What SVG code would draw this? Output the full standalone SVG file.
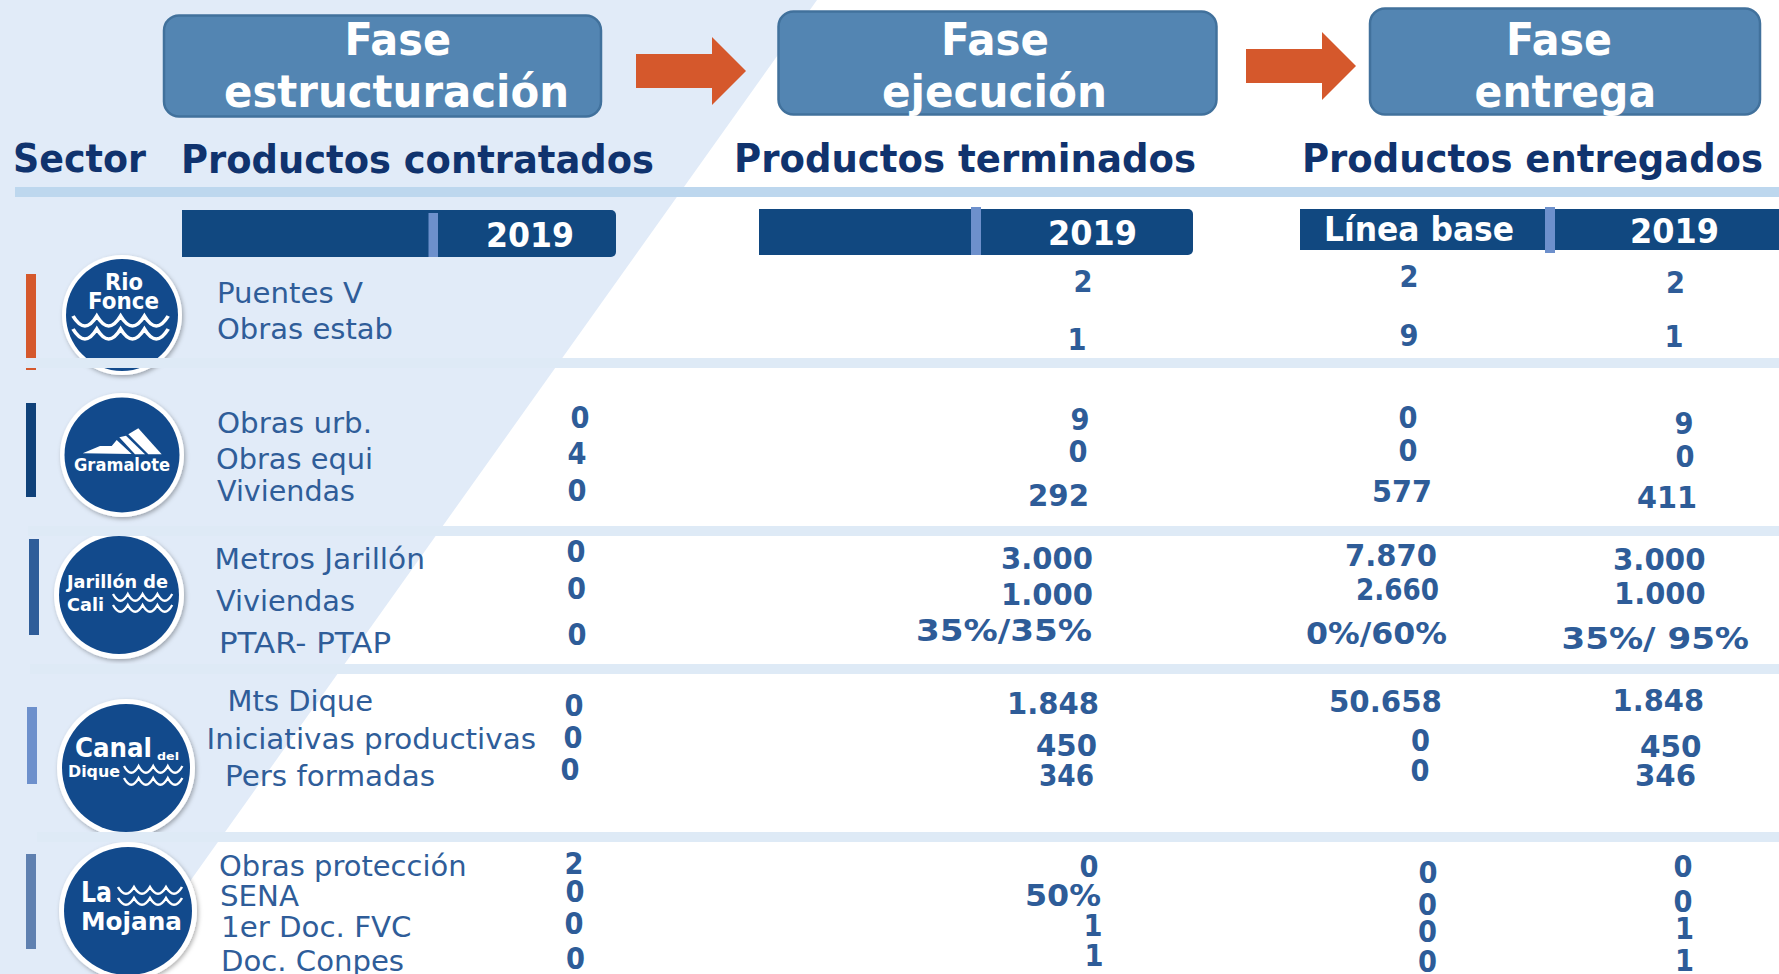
<svg xmlns="http://www.w3.org/2000/svg" xmlns:xlink="http://www.w3.org/1999/xlink" width="1779" height="974" viewBox="0 0 1779 974">
<style>
text{font-family:"DejaVu Sans","Liberation Sans",sans-serif}
.phase{font-size:44px;font-weight:700;fill:#fff}
.box{fill:#5385B2;stroke:#41719C;stroke-width:2.5}
.hdr{font-size:39px;font-weight:700;fill:#10336E}
.yr{font-size:34px;font-weight:700;fill:#fff}
.bar{fill:#114880}
.div{fill:#6D90CC}
.lab{font-size:29px;fill:#2F5D99}
.num{font-size:30px;font-weight:700;fill:#2E5C98}
.c{text-anchor:middle}
.ring{fill:#fff;filter:url(#sh)}
.disc{fill:#124A8C}
.lg{font-weight:700;fill:#fff}
.wv{fill:none;stroke:#fff;stroke-width:3.2}
.band{fill:#DEEAF6}
.arr{fill:#D5582C}
</style>
<defs>
<filter id="sh" x="-15%" y="-15%" width="130%" height="130%"><feDropShadow dx="1.5" dy="2" stdDeviation="2" flood-color="#000" flood-opacity=".3"/></filter>
<path id="w" d="M0 0Q5 9 10 9Q15 9 20 0Q25 9 30 9Q35 9 40 0Q45 9 50 9Q55 9 60 0Q65 9 70 9Q75 9 80 0"/>
</defs>
<rect width="1779" height="974" fill="#fff"/>
<polygon points="0,0 817,0 124,974 0,974" fill="#E1EBF8"/>
<rect x="15" y="187" width="1764" height="10" fill="#BDD7EE"/>

<g id="fase-estructuracion"><rect class="box" x="164" y="15.5" width="437" height="101" rx="15"/>
<text class="phase" x="344.5" y="55" textLength="106.5" lengthAdjust="spacingAndGlyphs">Fase</text>
<text class="phase" x="224" y="107" textLength="345" lengthAdjust="spacingAndGlyphs">estructuración</text></g>
<g id="fase-ejecucion"><rect class="box" x="778.5" y="11.5" width="438" height="103" rx="15"/>
<text class="phase" x="941" y="55" textLength="108" lengthAdjust="spacingAndGlyphs">Fase</text>
<text class="phase" x="882" y="107" textLength="225" lengthAdjust="spacingAndGlyphs">ejecución</text></g>
<g id="fase-entrega"><rect class="box" x="1370" y="8.5" width="390" height="106" rx="15"/>
<text class="phase" x="1506" y="55" textLength="106" lengthAdjust="spacingAndGlyphs">Fase</text>
<text class="phase" x="1474.6" y="107" textLength="181.5" lengthAdjust="spacingAndGlyphs">entrega</text></g>

<g id="connectors">
<polygon class="arr" points="636,54 712,54 712,37 746,71 712,105 712,88 636,88"/>
<polygon class="arr" points="1246,49 1322,49 1322,32 1356,66 1322,100 1322,83 1246,83"/>
</g>

<g id="encabezados">
<text class="hdr" x="13" y="172" textLength="133" lengthAdjust="spacingAndGlyphs">Sector</text>
<text class="hdr" x="181" y="173" textLength="473" lengthAdjust="spacingAndGlyphs">Productos contratados</text>
<text class="hdr" x="734" y="172" textLength="462" lengthAdjust="spacingAndGlyphs">Productos terminados</text>
<text class="hdr" x="1302" y="172" textLength="461" lengthAdjust="spacingAndGlyphs">Productos entregados</text>
</g>

<g id="columna-contratados"><path class="bar" d="M182 210H611a5 5 0 0 1 5 5V252a5 5 0 0 1-5 5H182Z"/><rect class="div" x="428.5" y="213" width="9.5" height="44"/>
<text class="yr" x="486" y="247" textLength="88" lengthAdjust="spacingAndGlyphs">2019</text></g>
<g id="columna-terminados"><path class="bar" d="M759 209H1188a5 5 0 0 1 5 5V250a5 5 0 0 1-5 5H759Z"/><rect class="div" x="971" y="207" width="10" height="48"/>
<text class="yr" x="1048" y="245" textLength="89" lengthAdjust="spacingAndGlyphs">2019</text></g>
<g id="columna-entregados"><rect class="bar" x="1300" y="209" width="479" height="41"/><rect class="div" x="1545" y="207" width="10" height="46"/>
<text class="yr" x="1324" y="241" textLength="190" lengthAdjust="spacingAndGlyphs">Línea base</text>
<text class="yr" x="1630" y="243" textLength="89" lengthAdjust="spacingAndGlyphs">2019</text></g>

<g id="rio-fonce">
<rect x="26" y="274" width="10" height="96" fill="#D5582C"/>
<circle class="ring" cx="122" cy="315" r="60"/><circle class="disc" cx="122" cy="315" r="56"/>
<text class="lg" x="105" y="290" font-size="23" textLength="38" lengthAdjust="spacingAndGlyphs">Rio</text>
<text class="lg" x="88" y="309" font-size="23" textLength="71" lengthAdjust="spacingAndGlyphs">Fonce</text>
<use xlink:href="#w" href="#w" class="wv" transform="translate(73 316) scale(1.19 1.1)"/>
<use xlink:href="#w" href="#w" class="wv" transform="translate(73 329) scale(1.19 1.1)"/>
<text class="lab" x="217" y="303" textLength="146" lengthAdjust="spacingAndGlyphs">Puentes V</text>
<text class="lab" x="217" y="339" textLength="176" lengthAdjust="spacingAndGlyphs">Obras estab</text>
<text class="num c" textLength="19" lengthAdjust="spacingAndGlyphs" x="1083" y="292">2</text><text class="num c" textLength="19" lengthAdjust="spacingAndGlyphs" x="1077" y="350">1</text>
<text class="num c" textLength="19" lengthAdjust="spacingAndGlyphs" x="1409" y="287">2</text><text class="num c" textLength="19" lengthAdjust="spacingAndGlyphs" x="1409" y="346">9</text>
<text class="num c" textLength="19" lengthAdjust="spacingAndGlyphs" x="1675.5" y="293">2</text><text class="num c" textLength="19" lengthAdjust="spacingAndGlyphs" x="1674" y="347">1</text>
</g>

<g id="gramalote">
<rect x="26" y="403" width="10" height="94" fill="#0F4179"/>
<circle class="ring" cx="122" cy="455" r="62"/><circle class="disc" cx="122" cy="455" r="57.5"/>
<polygon fill="#fff" points="82.7,453.3 100,446 111.7,446 116.7,440 131.7,454"/>
<polygon fill="#fff" points="119.3,437.3 126,435.7 145,454.3 135,454.3"/>
<polygon fill="#fff" points="128.3,434.3 138.3,428.3 161.7,454.3 148.3,454.3"/>
<text class="lg" x="74" y="471" font-size="18" textLength="96" lengthAdjust="spacingAndGlyphs">Gramalote</text>
<text class="lab" x="217" y="433" textLength="155" lengthAdjust="spacingAndGlyphs">Obras urb.</text>
<text class="lab" x="216" y="469" textLength="157" lengthAdjust="spacingAndGlyphs">Obras equi</text>
<text class="lab" x="217" y="501" textLength="138" lengthAdjust="spacingAndGlyphs">Viviendas</text>
<text class="num c" textLength="19" lengthAdjust="spacingAndGlyphs" x="580" y="428">0</text><text class="num c" textLength="19" lengthAdjust="spacingAndGlyphs" x="577" y="464">4</text><text class="num c" textLength="19" lengthAdjust="spacingAndGlyphs" x="577" y="501">0</text>
<text class="num c" textLength="19" lengthAdjust="spacingAndGlyphs" x="1080" y="430">9</text><text class="num c" textLength="19" lengthAdjust="spacingAndGlyphs" x="1078" y="462">0</text>
<text class="num" x="1028" y="506" textLength="61" lengthAdjust="spacingAndGlyphs">292</text>
<text class="num c" textLength="19" lengthAdjust="spacingAndGlyphs" x="1408" y="428">0</text><text class="num c" textLength="19" lengthAdjust="spacingAndGlyphs" x="1408" y="461">0</text>
<text class="num" x="1372" y="502" textLength="60" lengthAdjust="spacingAndGlyphs">577</text>
<text class="num c" textLength="19" lengthAdjust="spacingAndGlyphs" x="1684" y="434">9</text><text class="num c" textLength="19" lengthAdjust="spacingAndGlyphs" x="1685" y="467">0</text>
<text class="num" x="1637" y="508" textLength="60" lengthAdjust="spacingAndGlyphs">411</text>
</g>

<g id="jarillon-de-cali">
<rect x="29" y="539" width="10" height="96" fill="#2F5D99"/>
<ellipse class="ring" cx="119" cy="595" rx="65" ry="64"/><ellipse class="disc" cx="119" cy="595" rx="60" ry="59"/>
<text class="lg" x="67" y="588" font-size="18" textLength="101" lengthAdjust="spacingAndGlyphs">Jarillón de</text>
<text class="lg" x="67" y="611" font-size="18" textLength="37" lengthAdjust="spacingAndGlyphs">Cali</text>
<use xlink:href="#w" href="#w" class="wv" transform="translate(113 594) scale(.74 .75)"/>
<use xlink:href="#w" href="#w" class="wv" transform="translate(113 605) scale(.74 .75)"/>
<text class="lab" x="214.5" y="569" textLength="210.5" lengthAdjust="spacingAndGlyphs">Metros Jarillón</text>
<text class="lab" x="216" y="611" textLength="139" lengthAdjust="spacingAndGlyphs">Viviendas</text>
<text class="lab" x="219" y="653" textLength="172" lengthAdjust="spacingAndGlyphs">PTAR- PTAP</text>
<text class="num c" textLength="19" lengthAdjust="spacingAndGlyphs" x="576" y="562">0</text><text class="num c" textLength="19" lengthAdjust="spacingAndGlyphs" x="576.6" y="599">0</text><text class="num c" textLength="19" lengthAdjust="spacingAndGlyphs" x="577" y="645">0</text>
<text class="num" x="1001" y="569" textLength="92" lengthAdjust="spacingAndGlyphs">3.000</text>
<text class="num" x="1001" y="605" textLength="92" lengthAdjust="spacingAndGlyphs">1.000</text>
<text class="num" x="916" y="641" textLength="176" lengthAdjust="spacingAndGlyphs">35%/35%</text>
<text class="num" x="1345" y="566" textLength="92" lengthAdjust="spacingAndGlyphs">7.870</text>
<text class="num" x="1356" y="600" textLength="83" lengthAdjust="spacingAndGlyphs">2.660</text>
<text class="num" x="1306" y="644" textLength="141" lengthAdjust="spacingAndGlyphs">0%/60%</text>
<text class="num" x="1613" y="570" textLength="92.6" lengthAdjust="spacingAndGlyphs">3.000</text>
<text class="num" x="1614" y="604" textLength="91.6" lengthAdjust="spacingAndGlyphs">1.000</text>
<text class="num" x="1561.5" y="649" textLength="187.5" lengthAdjust="spacingAndGlyphs">35%/ 95%</text>
</g>

<g id="canal-del-dique">
<rect x="27" y="707" width="10" height="77" fill="#6D90CC"/>
<circle class="ring" cx="126" cy="768" r="69"/><circle class="disc" cx="126" cy="768" r="64"/>
<text class="lg" x="75" y="757" font-size="26" textLength="77" lengthAdjust="spacingAndGlyphs">Canal</text>
<text class="lg" x="157" y="760" font-size="11" textLength="22" lengthAdjust="spacingAndGlyphs">del</text>
<text class="lg" x="68" y="777" font-size="15" textLength="52" lengthAdjust="spacingAndGlyphs">Dique</text>
<use xlink:href="#w" href="#w" class="wv" transform="translate(124 766) scale(.73 .75)"/>
<use xlink:href="#w" href="#w" class="wv" transform="translate(124 778) scale(.73 .75)"/>
<text class="lab" x="227.6" y="711" textLength="145.4" lengthAdjust="spacingAndGlyphs">Mts Dique</text>
<text class="lab" x="206.6" y="749" textLength="329.4" lengthAdjust="spacingAndGlyphs">Iniciativas productivas</text>
<text class="lab" x="225" y="786" textLength="210" lengthAdjust="spacingAndGlyphs">Pers formadas</text>
<text class="num c" textLength="19" lengthAdjust="spacingAndGlyphs" x="574" y="716">0</text><text class="num c" textLength="19" lengthAdjust="spacingAndGlyphs" x="573" y="748">0</text><text class="num c" textLength="19" lengthAdjust="spacingAndGlyphs" x="570" y="780">0</text>
<text class="num" x="1007" y="714" textLength="92" lengthAdjust="spacingAndGlyphs">1.848</text>
<text class="num" x="1036" y="756" textLength="61" lengthAdjust="spacingAndGlyphs">450</text>
<text class="num" x="1039" y="786" textLength="55" lengthAdjust="spacingAndGlyphs">346</text>
<text class="num" x="1329" y="712" textLength="113" lengthAdjust="spacingAndGlyphs">50.658</text>
<text class="num c" textLength="19" lengthAdjust="spacingAndGlyphs" x="1420.6" y="751">0</text><text class="num c" textLength="19" lengthAdjust="spacingAndGlyphs" x="1420" y="781">0</text>
<text class="num" x="1612.6" y="711" textLength="91.4" lengthAdjust="spacingAndGlyphs">1.848</text>
<text class="num" x="1640" y="757" textLength="61.6" lengthAdjust="spacingAndGlyphs">450</text>
<text class="num" x="1635" y="786" textLength="61" lengthAdjust="spacingAndGlyphs">346</text>
</g>

<g id="la-mojana">
<rect x="26" y="854" width="10" height="95" fill="#5F80B0"/>
<circle class="ring" cx="128" cy="911" r="69"/><circle class="disc" cx="128" cy="911" r="64"/>
<text class="lg" x="81" y="902" font-size="28" textLength="31" lengthAdjust="spacingAndGlyphs">La</text>
<text class="lg" x="81" y="930" font-size="24" textLength="101" lengthAdjust="spacingAndGlyphs">Mojana</text>
<use xlink:href="#w" href="#w" class="wv" transform="translate(118 887) scale(.8 .75)"/>
<use xlink:href="#w" href="#w" class="wv" transform="translate(118 898) scale(.8 .75)"/>
<text class="lab" x="219" y="876" textLength="247.5" lengthAdjust="spacingAndGlyphs">Obras protección</text>
<text class="lab" x="220" y="906" textLength="79" lengthAdjust="spacingAndGlyphs">SENA</text>
<text class="lab" x="221" y="937" textLength="190.5" lengthAdjust="spacingAndGlyphs">1er Doc. FVC</text>
<text class="lab" x="221" y="971" textLength="183" lengthAdjust="spacingAndGlyphs">Doc. Conpes</text>
<text class="num c" textLength="19" lengthAdjust="spacingAndGlyphs" x="574" y="874">2</text><text class="num c" textLength="19" lengthAdjust="spacingAndGlyphs" x="575" y="902">0</text><text class="num c" textLength="19" lengthAdjust="spacingAndGlyphs" x="574" y="934">0</text><text class="num c" textLength="19" lengthAdjust="spacingAndGlyphs" x="575.5" y="969">0</text>
<text class="num c" textLength="19" lengthAdjust="spacingAndGlyphs" x="1089" y="877">0</text>
<text class="num" x="1025" y="906" textLength="76" lengthAdjust="spacingAndGlyphs">50%</text>
<text class="num c" textLength="19" lengthAdjust="spacingAndGlyphs" x="1093" y="936">1</text><text class="num c" textLength="19" lengthAdjust="spacingAndGlyphs" x="1094" y="966">1</text>
<text class="num c" textLength="19" lengthAdjust="spacingAndGlyphs" x="1428" y="883">0</text><text class="num c" textLength="19" lengthAdjust="spacingAndGlyphs" x="1427.5" y="915">0</text><text class="num c" textLength="19" lengthAdjust="spacingAndGlyphs" x="1427.5" y="942">0</text><text class="num c" textLength="19" lengthAdjust="spacingAndGlyphs" x="1427.5" y="972">0</text>
<text class="num c" textLength="19" lengthAdjust="spacingAndGlyphs" x="1683" y="877">0</text><text class="num c" textLength="19" lengthAdjust="spacingAndGlyphs" x="1683" y="912">0</text><text class="num c" textLength="19" lengthAdjust="spacingAndGlyphs" x="1684.5" y="939">1</text><text class="num c" textLength="19" lengthAdjust="spacingAndGlyphs" x="1684.5" y="971">1</text>
</g>

<g id="separadores">
<rect class="band" x="26" y="358" width="1753" height="10"/>
<rect class="band" x="28" y="526" width="1751" height="10"/>
<rect class="band" x="30" y="664" width="1749" height="10"/>
<rect class="band" x="37" y="832" width="1742" height="10"/>
</g>
</svg>
